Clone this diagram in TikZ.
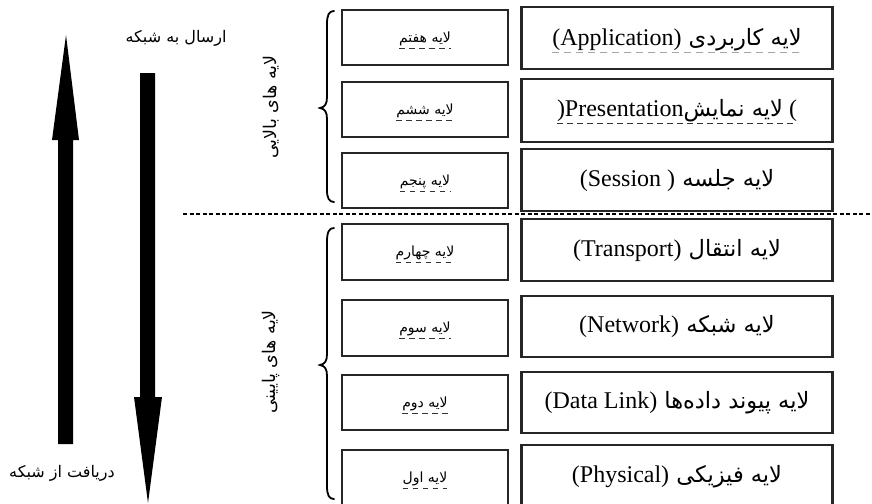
\documentclass[tikz,border=0pt]{standalone}
\usepackage{fontspec}
\setmainfont{Liberation Serif}
\newfontfamily\fa[Script=Arabic]{DejaVu Sans}
\TeXXeTstate=1
\newcommand\bigfa{\fa\fontsize{22.5}{26}\selectfont}
\newcommand\biglat{\rmfamily\fontsize{24}{28}\selectfont}
\newcommand\smallfa{\fa\fontsize{14}{16}\selectfont}
\newcommand\midfa{\fa\fontsize{16}{19}\selectfont}
\newcommand\rotfa{\fa\fontsize{17.5}{20}\selectfont}
\begin{document}
\begin{tikzpicture}[x=1pt,y=-1pt,
  bigbox/.style={draw=black!85,line width=2.3pt,minimum width=311pt,minimum height=62pt,inner sep=0pt},
  smallbox/.style={draw=black!85,line width=2pt,minimum width=166pt,minimum height=55pt,inner sep=0pt},
  txt/.style={inner sep=0pt,outer sep=0pt},
  uldark/.style={draw=black!80,line width=0.9pt,dash pattern=on 5.5pt off 4.5pt},
  ulgray/.style={draw=black!35,line width=1.1pt,dash pattern=on 7pt off 5pt},
  bracestyle/.style={draw=black,line width=1.8pt,line cap=round},
  sepline/.style={draw=black,line width=1.3pt,dash pattern=on 4pt off 2.5pt},
  fatarrow/.style={fill=black}]
\useasboundingbox (0,0) rectangle (872,503);

% right column boxes
\node[bigbox,minimum height=62pt] (B7) at (677,38) {};
\node[bigbox,minimum height=63pt] (B6) at (677,110.5) {};
\node[bigbox,minimum height=62pt] (B5) at (677,180) {};
\node[bigbox,minimum height=62pt] (B4) at (677,250) {};
\node[bigbox,minimum height=61pt] (B3) at (677,326.5) {};
\node[bigbox,minimum height=61pt] (B2) at (677,402.5) {};
\node[bigbox,minimum height=62pt] (B1) at (677,476) {};

% left column boxes
\node[smallbox] (S7) at (425,37.5) {};
\node[smallbox] (S6) at (425,109.5) {};
\node[smallbox] (S5) at (425,180.5) {};
\node[smallbox,minimum height=56pt] (S4) at (425,252) {};
\node[smallbox,minimum height=56pt] (S3) at (425,328) {};
\node[smallbox] (S2) at (425,402.5) {};
\node[smallbox,minimum height=56pt] (S1) at (425,478) {};

% texts in right boxes
\node[txt] (T7) at (677,40) {\bigfa\beginR لایه کاربردی \beginL{\biglat(Application)}\endL\endR};
\node[txt] (T6) at (677,111) {{\biglat)Presentation}{\bigfa\beginR لایه نمایش\endR}{\biglat\ (}};
\node[txt] (T5) at (677,181) {\bigfa\beginR لایه جلسه \beginL{\biglat(Session )}\endL\endR};
\node[txt] (T4) at (677,251) {\bigfa\beginR لایه انتقال \beginL{\biglat(Transport)}\endL\endR};
\node[txt] (T3) at (677,327) {\bigfa\beginR لایه شبکه \beginL{\biglat(Network)}\endL\endR};
\node[txt] (T2) at (677,403) {\bigfa\beginR لایه پیوند داده‌ها \beginL{\biglat(Data Link)}\endL\endR};
\node[txt] (T1) at (677,477) {\bigfa\beginR لایه فیزیکی \beginL{\biglat(Physical)}\endL\endR};

\draw[ulgray] ([yshift=-7pt]T7.base west) -- ([yshift=-7pt]T7.base east);
\draw[uldark] ([yshift=-7pt]T6.base west) -- ([yshift=-7pt]T6.base east);

% texts in left boxes
\node[txt] (L7) at (425,39) {\smallfa\beginR لایه هفتم\endR};
\node[txt] (L6) at (425,111) {\smallfa\beginR لایه ششم\endR};
\node[txt] (L5) at (425,182) {\smallfa\beginR لایه پنجم\endR};
\node[txt] (L4) at (425,253) {\smallfa\beginR لایه چهارم\endR};
\node[txt] (L3) at (425,329) {\smallfa\beginR لایه سوم\endR};
\node[txt] (L2) at (425,404) {\smallfa\beginR لایه دوم\endR};
\node[txt] (L1) at (425,479) {\smallfa\beginR لایه اول\endR};
\foreach \n in {L1,L2,L3,L4,L5,L6,L7}{
  \draw[uldark] ([yshift=-6pt]\n.base west) -- ([yshift=-6pt]\n.base east);
}

% separator
\coordinate (sepL) at (183,214);
\coordinate (sepR) at (872,214);
\draw[sepline] (sepL) -- (sepR);

% braces
\draw[bracestyle] (334,11) .. controls (329,11) and (327,15) .. (327,24)
  -- (327,97) .. controls (327,104) and (325,107) .. (320,108)
  .. controls (325,109) and (327,112) .. (327,119)
  -- (327,190) .. controls (327,198) and (329,202) .. (334,202);
\draw[bracestyle] (334,228) .. controls (329,228) and (327,232) .. (327,242)
  -- (327,354) .. controls (327,361) and (325,364) .. (320,365)
  .. controls (325,366) and (327,369) .. (327,376)
  -- (327,486) .. controls (327,495) and (329,499) .. (334,499);

% rotated group labels
\node[txt,rotate=90] (UP) at (271,107) {\rotfa\beginR لایه های بالایی\endR};
\node[txt,rotate=90] (LO) at (271,362) {\rotfa\beginR لایه های پایینی\endR};

% big arrows
\fill[fatarrow] (58,444) -- (58,140) -- (52,140) -- (66,35) -- (79,140) -- (73,140) -- (73,444) -- cycle;
\fill[fatarrow] (140,73) -- (155,73) -- (155,397) -- (162,397) -- (148,503) -- (134,397) -- (140,397) -- cycle;

% arrow captions
\node[txt] (send) at (176,38) {\midfa\beginR ارسال به شبکه\endR};
\node[txt] (recv) at (62,473) {\midfa\beginR دریافت از شبکه\endR};
\end{tikzpicture}
\end{document}
